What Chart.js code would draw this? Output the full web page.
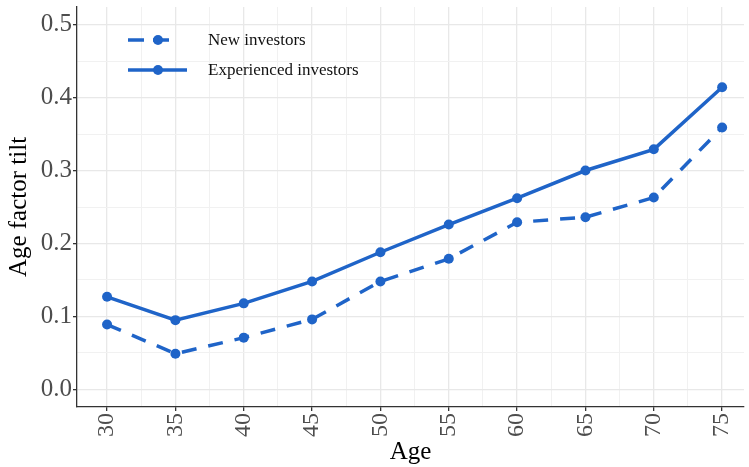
<!DOCTYPE html>
<html>
<head>
<meta charset="utf-8">
<script src="https://cdn.jsdelivr.net/npm/chart.js@4/dist/chart.umd.min.js"></script>
<style>
  html, body { margin: 0; padding: 0; background: #fff; overflow: hidden; }
  canvas { display: block; }
</style>
</head>
<body>
<canvas id="ageChart" width="749" height="467"></canvas>
<script>
// ===== data =====
const ages = [30, 35, 40, 45, 50, 55, 60, 65, 70, 75];
const newInvestors = [0.089, 0.049, 0.071, 0.096, 0.148, 0.179, 0.229, 0.236, 0.263, 0.359];
const experiencedInvestors = [0.127, 0.095, 0.118, 0.148, 0.188, 0.226, 0.262, 0.300, 0.329, 0.414];
const yTicks = [0, 0.05, 0.1, 0.15, 0.2, 0.25, 0.3, 0.35, 0.4, 0.45, 0.5];
const xTicks = [30, 32.5, 35, 37.5, 40, 42.5, 45, 47.5, 50, 52.5, 55, 57.5, 60, 62.5, 65, 67.5, 70, 72.5, 75];

const blue = '#1f64c8';
const serif = "'Liberation Serif', 'DejaVu Serif', serif";

function isMajorY(v) { return Math.abs(v * 10 - Math.round(v * 10)) < 1e-6; }
function isMajorX(v) { return v % 5 === 0; }

// legend drawn inside the panel, top-left (like ggplot legend.position)
const insideLegend = {
    id: 'insideLegend',
    afterDatasetsDraw(chart) {
        const ctx = chart.ctx;
        const rows = [
            { ds: chart.data.datasets[0], y: 40 },
            { ds: chart.data.datasets[1], y: 70 }
        ];
        ctx.save();
        rows.forEach(r => {
            const dashed = r.ds.borderDash && r.ds.borderDash.length;
            ctx.strokeStyle = r.ds.borderColor;
            ctx.lineWidth = 3.5;
            ctx.setLineDash(dashed ? [16, 9] : []);
            ctx.beginPath();
            ctx.moveTo(128, r.y);
            ctx.lineTo(dashed ? 178 : 187, r.y);
            ctx.stroke();
            ctx.setLineDash([]);
            ctx.fillStyle = r.ds.borderColor;
            ctx.beginPath();
            ctx.arc(158, r.y, 5, 0, Math.PI * 2);
            ctx.fill();
            ctx.fillStyle = '#111';
            ctx.font = "17px " + serif;
            ctx.textBaseline = 'middle';
            ctx.fillText(r.ds.label, 208, r.y + 1);
        });
        ctx.restore();
    }
};

const ctx = document.getElementById('ageChart').getContext('2d');
new Chart(ctx, {
    type: 'line',
    data: {
        datasets: [{
            label: 'New investors',
            data: ages.map((a, i) => ({ x: a, y: newInvestors[i] })),
            borderColor: blue,
            backgroundColor: blue,
            borderWidth: 3.5,
            borderDash: [15, 12],
            pointRadius: 5,
            pointBorderWidth: 0,
            pointHoverRadius: 5,
            tension: 0
        }, {
            label: 'Experienced investors',
            data: ages.map((a, i) => ({ x: a, y: experiencedInvestors[i] })),
            borderColor: blue,
            backgroundColor: blue,
            borderWidth: 3.5,
            pointRadius: 5,
            pointBorderWidth: 0,
            pointHoverRadius: 5,
            tension: 0
        }]
    },
    options: {
        responsive: false,
        animation: false,
        devicePixelRatio: 1,
        layout: { padding: { top: 7, right: 0, left: 0, bottom: 0 } },
        plugins: { legend: { display: false }, tooltip: { enabled: false } },
        scales: {
            x: {
                type: 'linear',
                min: 27.8,
                max: 76.6,
                afterBuildTicks: s => { s.ticks = xTicks.map(v => ({ value: v })); },
                afterFit: s => { s.height = 60; s.paddingLeft = 0; s.paddingRight = 0; },
                border: { display: true, color: '#333', width: 1.3 },
                grid: {
                    color: c => isMajorX(c.tick.value) ? '#e8e8e8' : '#f1f1f1',
                    lineWidth: c => isMajorX(c.tick.value) ? 1.3 : 1,
                    tickColor: c => isMajorX(c.tick.value) ? '#333' : 'rgba(0,0,0,0)',
                    tickLength: 4
                },
                ticks: {
                    autoSkip: false,
                    minRotation: 90,
                    maxRotation: 90,
                    padding: 2,
                    color: '#4d4d4d',
                    font: { family: serif, size: 24 },
                    callback: v => isMajorX(v) ? String(v) : ''
                },
                title: {
                    display: true,
                    text: 'Age',
                    color: '#000',
                    font: { family: serif, size: 25 },
                    padding: { top: 0, bottom: 0 }
                }
            },
            y: {
                min: -0.024,
                max: 0.524,
                afterBuildTicks: s => { s.ticks = yTicks.map(v => ({ value: v })); },
                afterFit: s => { s.width = 77; s.paddingTop = 0; s.paddingBottom = 0; },
                border: { display: true, color: '#333', width: 1.3 },
                grid: {
                    color: c => isMajorY(c.tick.value) ? '#e8e8e8' : '#f1f1f1',
                    lineWidth: c => isMajorY(c.tick.value) ? 1.3 : 1,
                    tickColor: c => isMajorY(c.tick.value) ? '#333' : 'rgba(0,0,0,0)',
                    tickLength: 4
                },
                ticks: {
                    padding: 1,
                    color: '#4d4d4d',
                    font: { family: serif, size: 25 },
                    callback: v => isMajorY(v) ? v.toFixed(1) : ''
                },
                title: {
                    display: true,
                    text: 'Age factor tilt',
                    color: '#000',
                    font: { family: serif, size: 25 },
                    padding: { top: 4, bottom: 0 }
                }
            }
        }
    },
    plugins: [insideLegend]
});
</script>
</body>
</html>
